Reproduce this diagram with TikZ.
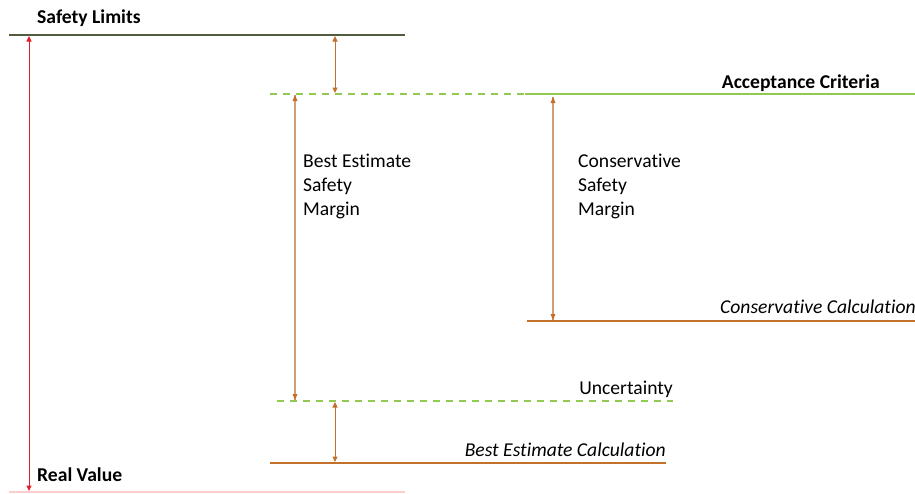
\documentclass[tikz,border=0pt]{standalone}
\usepackage{fontspec}
\setmainfont{Carlito}[Ligatures=NoCommon]
\usetikzlibrary{arrows.meta}
\definecolor{limitgray}{RGB}{80,92,62}
\definecolor{acceptgreen}{RGB}{146,202,80}
\definecolor{calcbrown}{RGB}{196,112,45}
\definecolor{shafttan}{RGB}{205,160,122}
\definecolor{realred}{RGB}{228,30,40}
\definecolor{realpink}{RGB}{255,205,205}

\begin{document}
\begin{tikzpicture}[x=1pt,y=-1pt,
    lbl/.style={font=\fontsize{19.6}{24}\selectfont, inner sep=0pt},
    dbl/.style={{Triangle[length=5.5pt,width=5pt]}-{Triangle[length=5.5pt,width=5pt]}}]
      \useasboundingbox (0,0) rectangle (915,493);
      % Level lines (end points)
      \coordinate (slL) at (9,35);    \coordinate (slR) at (405,35);
      \coordinate (acD) at (270,94);  \coordinate (acS) at (525,94);
      \coordinate (acR) at (915,94);
      \coordinate (ccL) at (527,321); \coordinate (ccR) at (915,321);
      \coordinate (unL) at (277,401); \coordinate (unR) at (673,401);
      \coordinate (beL) at (270,463); \coordinate (beR) at (666,463);
      \coordinate (rvL) at (9,492);   \coordinate (rvR) at (405,492);
      % Safety limits
      \draw[limitgray, line width=1.2pt] (slL) -- (slR);
      \node[lbl, font=\fontsize{19.6}{24}\selectfont\bfseries, anchor=base west] (sltext) at (37,23) {Safety Limits};
      % Acceptance criteria: dashed part, then solid part
      \draw[acceptgreen, line width=1.2pt, dash pattern=on 7pt off 6pt] (acD) -- (acS);
      \draw[acceptgreen, line width=1.2pt] (acS) -- (acR);
      \node[lbl, font=\fontsize{19.6}{24}\selectfont\bfseries, anchor=base east] (actext) at (880,88) {Acceptance Criteria};
      % Conservative calculation
      \draw[calcbrown, line width=1.2pt] (ccL) -- (ccR);
      \node[lbl, font=\fontsize{19.6}{24}\selectfont\itshape, anchor=base west] (cctext) at (720,313) {Conservative Calculation};
      % Uncertainty
      \draw[acceptgreen, line width=1.2pt, dash pattern=on 7pt off 6pt] (unL) -- (unR);
      \node[lbl, anchor=base east] (untext) at (673,394) {Uncertainty};
      % Best estimate calculation
      \draw[calcbrown, line width=1.2pt] (beL) -- (beR);
      \node[lbl, font=\fontsize{19.6}{24}\selectfont\itshape, anchor=base east] (betext) at (666,456) {Best Estimate Calculation};
      % Real value
      \draw[realpink, line width=1.2pt] (rvL) -- (rvR);
      \node[lbl, font=\fontsize{19.6}{24}\selectfont\bfseries, anchor=base west] (rvtext) at (37,481) {Real Value};
      % Margin arrows
      \coordinate (rA) at (29,36);   \coordinate (rB) at (29,491);
      \draw[dbl, realred, line width=1pt] (rA) -- (rB);
      \coordinate (tA) at (335,36);  \coordinate (tB) at (335,93);
      \draw[dbl, calcbrown, line width=1pt] (tA) -- (tB);
      \coordinate (mA) at (295,95);  \coordinate (mB) at (295,400);
      \draw[shafttan, line width=1.3pt] (mA) -- (mB);
      \coordinate (cA) at (553,97);  \coordinate (cB) at (553,320);
      \draw[shafttan, line width=1.3pt] (cA) -- (cB);
      \coordinate (bA) at (335,402); \coordinate (bB) at (335,462);
      \draw[dbl, calcbrown, line width=1pt] (bA) -- (bB);
      % Arrow heads of the long arrows
      \fill[calcbrown] (mA) -- ++(-2.5,6) -- ++(5,0) -- cycle;
      \fill[calcbrown] (mB) -- ++(-2.5,-6) -- ++(5,0) -- cycle;
      \fill[calcbrown] (cA) -- ++(-2.5,6) -- ++(5,0) -- cycle;
      \fill[calcbrown] (cB) -- ++(-2.5,-6) -- ++(5,0) -- cycle;
      % Margin labels
      \node[lbl, align=left, anchor=base west] (bemargin) at (303,215) {Best Estimate\\Safety\\Margin};
      \node[lbl, align=left, anchor=base west] (cmargin) at (578,215) {Conservative\\Safety\\Margin};
    \end{tikzpicture}
\end{document}
